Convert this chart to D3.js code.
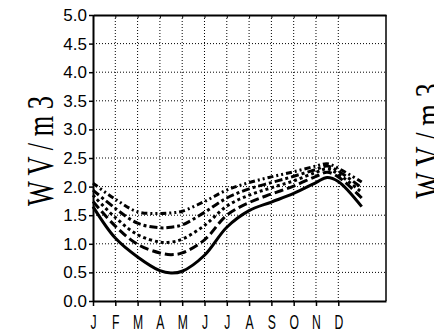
<!DOCTYPE html>
<html lang='en'>
  <head>
    <meta charset='utf-8'>
    <style type='text/css'>
      body {margin: 0; background-color: #fff;}
      #chart {width: 434px; height: 334px; overflow: hidden;}
    </style>
  </head>
  <body>

    <div id='chart'>
      <svg width='434' height='334'></svg>
    </div>

    <script src='https://d3js.org/d3.v7.min.js'></script>
    <script type='text/javascript'>
        // month tick labels
        var months = ["J", "F", "M", "A", "M", "J", "J", "A", "S", "O", "N", "D"];
        var yTicks = [0, 0.5, 1, 1.5, 2, 2.5, 3, 3.5, 4, 4.5, 5];

        // x position of each sample, in months from January
        var xPos = [0, 1, 2, 3, 3.5, 4, 5, 6, 7, 8, 9, 10, 10.5, 11, 12.05];

        // the five curves (W/m3)
        var dashDotDot = [2.06, 1.78, 1.56, 1.53, 1.54, 1.57, 1.74, 1.94, 2.07, 2.17, 2.26, 2.36, 2.40, 2.32, 2.08];
        var dashDot    = [1.94, 1.62, 1.36, 1.28, 1.29, 1.33, 1.55, 1.80, 1.96, 2.07, 2.18, 2.30, 2.36, 2.27, 1.98];
        var dotted     = [1.85, 1.46, 1.16, 1.03, 1.03, 1.08, 1.32, 1.66, 1.85, 1.98, 2.10, 2.25, 2.31, 2.22, 1.90];
        var dashed     = [1.74, 1.31, 0.99, 0.84, 0.81, 0.84, 1.07, 1.50, 1.72, 1.87, 2.01, 2.18, 2.25, 2.17, 1.80];
        var solid      = [1.65, 1.10, 0.77, 0.53, 0.49, 0.52, 0.80, 1.29, 1.58, 1.73, 1.88, 2.07, 2.16, 2.09, 1.65];

        var series = [
          {values: dashDotDot, dash: "6,3,2,3,2,3"},
          {values: dashDot, dash: "8,3,3,3"},
          {values: dotted, dash: "3,3"},
          {values: dashed, dash: "9,4"},
          {values: solid, dash: null}
        ];

        var svg = d3.select("#chart svg");

        // plot frame (window.top is read-only, so no plain "top")
        var pLeft = 93, pRight = 386, pTop = 15, pBottom = 301;

        var x = d3.scaleLinear().domain([0, 13.14]).range([pLeft, pRight]);
        var y = d3.scaleLinear().domain([0, 5]).range([pBottom, pTop]);

        // dotted grid
        svg.append("g").selectAll("line").data(yTicks.slice(1, -1))
          .enter().append("line")
            .attr("x1", pLeft).attr("x2", pRight)
            .attr("y1", function(d) { return y(d); })
            .attr("y2", function(d) { return y(d); })
            .style("stroke", "#000")
            .style("stroke-width", 1)
            .style("stroke-dasharray", "1,2");

        svg.append("g").selectAll("line").data(d3.range(1, months.length))
          .enter().append("line")
            .attr("x1", function(d) { return x(d); })
            .attr("x2", function(d) { return x(d); })
            .attr("y1", pTop).attr("y2", pBottom)
            .style("stroke", "#000")
            .style("stroke-width", 1)
            .style("stroke-dasharray", "1,2");

        // curves
        var line = d3.line()
            .x(function(d, i) { return x(xPos[i]); })
            .y(function(d) { return y(d); })
            .curve(d3.curveCatmullRom.alpha(0.5));

        svg.append("g").selectAll("path").data(series)
          .enter().append("path")
            .attr("d", function(s) { return line(s.values); })
            .style("fill", "none")
            .style("stroke", "#000")
            .style("stroke-width", 3)
            .style("stroke-dasharray", function(s) { return s.dash; });

        // bottom axis
        var xAxis = svg.append("g")
            .attr("transform", "translate(0," + pBottom + ")")
            .call(d3.axisBottom(x)
              .tickValues(d3.range(months.length))
              .tickFormat(function(d) { return months[d]; })
              .tickSize(5)
              .tickSizeOuter(0));
        xAxis.select(".domain").style("stroke-width", 2);
        xAxis.selectAll(".tick line").style("stroke-width", 1.5);
        xAxis.selectAll(".tick text")
            .attr("y", 28)
            .attr("dy", 0)
            .attr("transform", "scale(0.58,1)")
            .style("font-family", "'Liberation Sans', Arial, sans-serif")
            .style("font-size", "21px")
            .style("fill", "#000");

        // top axis, small inward ticks
        var topAxis = svg.append("g")
            .attr("transform", "translate(0," + pTop + ")")
            .call(d3.axisBottom(x)
              .tickValues(d3.range(months.length))
              .tickFormat("")
              .tickSize(3)
              .tickSizeOuter(0));
        topAxis.select(".domain").style("stroke-width", 2);

        // left axis
        var yAxis = svg.append("g")
            .attr("transform", "translate(" + pLeft + ",0)")
            .call(d3.axisLeft(y)
              .tickValues(yTicks)
              .tickFormat(d3.format(".1f"))
              .tickSize(4)
              .tickSizeOuter(0));
        yAxis.select(".domain").style("stroke-width", 2);
        yAxis.selectAll(".tick line").style("stroke-width", 1.5);
        yAxis.selectAll(".tick text")
            .attr("x", -6)
            .style("font-family", "'Liberation Sans', Arial, sans-serif")
            .style("font-size", "17px")
            .style("fill", "#000");

        // right border
        svg.append("line")
            .attr("x1", pRight).attr("x2", pRight)
            .attr("y1", pTop).attr("y2", pBottom)
            .style("stroke", "#000")
            .style("stroke-width", 1.5);

        // y axis titles (this panel and the cut-off neighbour), tall serif glyphs
        svg.append("text")
            .attr("transform", "translate(53,151) rotate(-90) scale(1,1.35)")
            .attr("text-anchor", "middle")
            .attr("textLength", 110)
            .attr("lengthAdjust", "spacingAndGlyphs")
            .style("font-family", "'Liberation Serif', 'Times New Roman', serif")
            .style("font-size", "28px")
            .text("W V / m 3");

        svg.append("text")
            .attr("transform", "translate(441,141) rotate(-90) scale(1,1.35)")
            .attr("text-anchor", "middle")
            .attr("textLength", 115)
            .attr("lengthAdjust", "spacingAndGlyphs")
            .style("font-family", "'Liberation Serif', 'Times New Roman', serif")
            .style("font-size", "28px")
            .text("W V / m 3");

    </script>
  </body>
</html>
